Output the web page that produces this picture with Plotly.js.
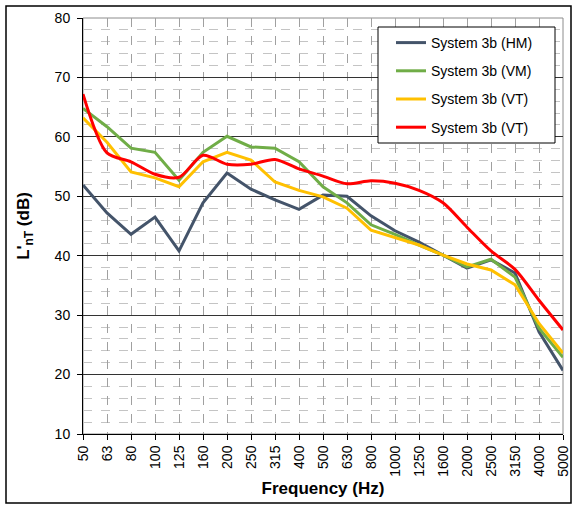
<!DOCTYPE html>
<html>
<head>
<meta charset="utf-8">
<script src="https://cdn.plot.ly/plotly-3.0.1.min.js"></script>
<style>html,body{margin:0;padding:0;background:#fff;}#chart{width:574px;height:505px;}</style>
</head>
<body>
<div id="chart"></div>
<script>
const frequencies = ["50","63","80","100","125","160","200","250","315","400","500","630","800","1000","1250","1600","2000","2500","3150","4000","5000"];
const seriesNames = ["System 3b (HM)","System 3b (VM)","System 3b (VT)","System 3b (VT)"];
const hm = [51.9,47.2,43.6,46.5,40.8,48.9,53.9,51.2,49.4,47.8,50.2,50.0,46.7,44.2,42.3,40.1,37.9,39.3,37.1,27.2,20.7];
const vm = [64.8,61.7,58.1,57.4,52.7,57.4,60.1,58.3,58.1,55.8,51.6,48.9,45.2,43.6,41.8,40.1,38.1,39.4,36.4,27.8,22.9];
const vt = [63.2,59.1,54.1,53.1,51.6,55.8,57.4,56.1,52.4,51.0,49.9,48.0,44.3,43.0,41.8,40.1,38.6,37.6,35.1,28.6,23.6];
const vt2 = [67.2,57.3,55.8,53.7,53.2,56.9,55.4,55.4,56.2,54.6,53.4,52.1,52.6,52.2,51.0,48.9,44.8,40.8,37.7,32.5,27.5];
const yTicks = [10,20,30,40,50,60,70,80];

const colors = ["#44546A","#70AD47","#FFC000","#FF0000"];
const shapes = ["linear","linear","linear","spline"];
const allData = [hm, vm, vt, vt2];

const traces = allData.map((vals, i) => ({
  type: "scatter",
  mode: "lines",
  x: frequencies,
  y: vals,
  name: seriesNames[i],
  legendgroup: "g" + i,
  line: {color: colors[i], width: 3, shape: shapes[i], smoothing: 0.8}
}));

const W = 480, H = 416;
const layout = {
  width: 574, height: 505,
  margin: {l: 83, r: 11, t: 18, b: 71},
  paper_bgcolor: "#ffffff",
  plot_bgcolor: "#ffffff",
  font: {family: "Liberation Sans, Arial, sans-serif", size: 13, color: "#000"},
  showlegend: true,
  legend: {
    x: (391 - 83) / W, y: (434 - 27) / H, xanchor: "left", yanchor: "top",
    bgcolor: "rgba(0,0,0,0)", borderwidth: 0,
    font: {family: "Liberation Sans, Arial, sans-serif", size: 14, color: "#000"},
    traceorder: "grouped", tracegroupgap: 7
  },
  xaxis: {
    type: "category",
    range: [0, frequencies.length - 1],
    tickangle: -90,
    showgrid: true, gridcolor: "#a0a0a0", griddash: "dash", gridwidth: 1,
    showline: true, linecolor: "#000", linewidth: 1,
    ticks: "outside", ticklen: 5, tickcolor: "#000",
    tickfont: {size: 14},
    zeroline: false,
    title: {text: "<b>Frequency (Hz)</b>", font: {size: 17}, standoff: 6}
  },
  yaxis: {
    range: [10, 80],
    tickvals: yTicks,
    ticktext: yTicks.map(String),
    showgrid: true, gridcolor: "#333333", gridwidth: 1,
    minor: {dtick: 2, tick0: 10, showgrid: true, gridcolor: "#c4c4c4", griddash: "dash", gridwidth: 1, ticks: ""},
    showline: true, linecolor: "#000", linewidth: 1,
    ticks: "outside", ticklen: 5, tickcolor: "#000",
    tickfont: {size: 14},
    ticklabelstandoff: 4,
    zeroline: false,
    title: {text: "<b>L'<sub>nT</sub> (dB)</b>", font: {size: 17}, standoff: 20}
  },
  shapes: [
    {type: "rect", xref: "paper", yref: "paper", x0: 0, x1: 1, y0: 0, y1: 1,
     line: {color: "#8c8c8c", width: 1}, layer: "below"},
    {type: "rect", xref: "paper", yref: "paper",
     x0: (6 - 83) / W, x1: (571 - 83) / W, y0: (434 - 503) / H, y1: (434 - 6) / H,
     line: {color: "#000", width: 1.5}, fillcolor: "rgba(0,0,0,0)", layer: "below"},
    {type: "rect", xref: "paper", yref: "paper",
     x0: (378 - 83) / W, x1: (555 - 83) / W, y0: (434 - 143) / H, y1: (434 - 27) / H,
     line: {color: "#000", width: 1}, fillcolor: "#ffffff", layer: "above"}
  ]
};

Plotly.newPlot("chart", traces, layout, {displayModeBar: false, staticPlot: true});
</script>
</body>
</html>
